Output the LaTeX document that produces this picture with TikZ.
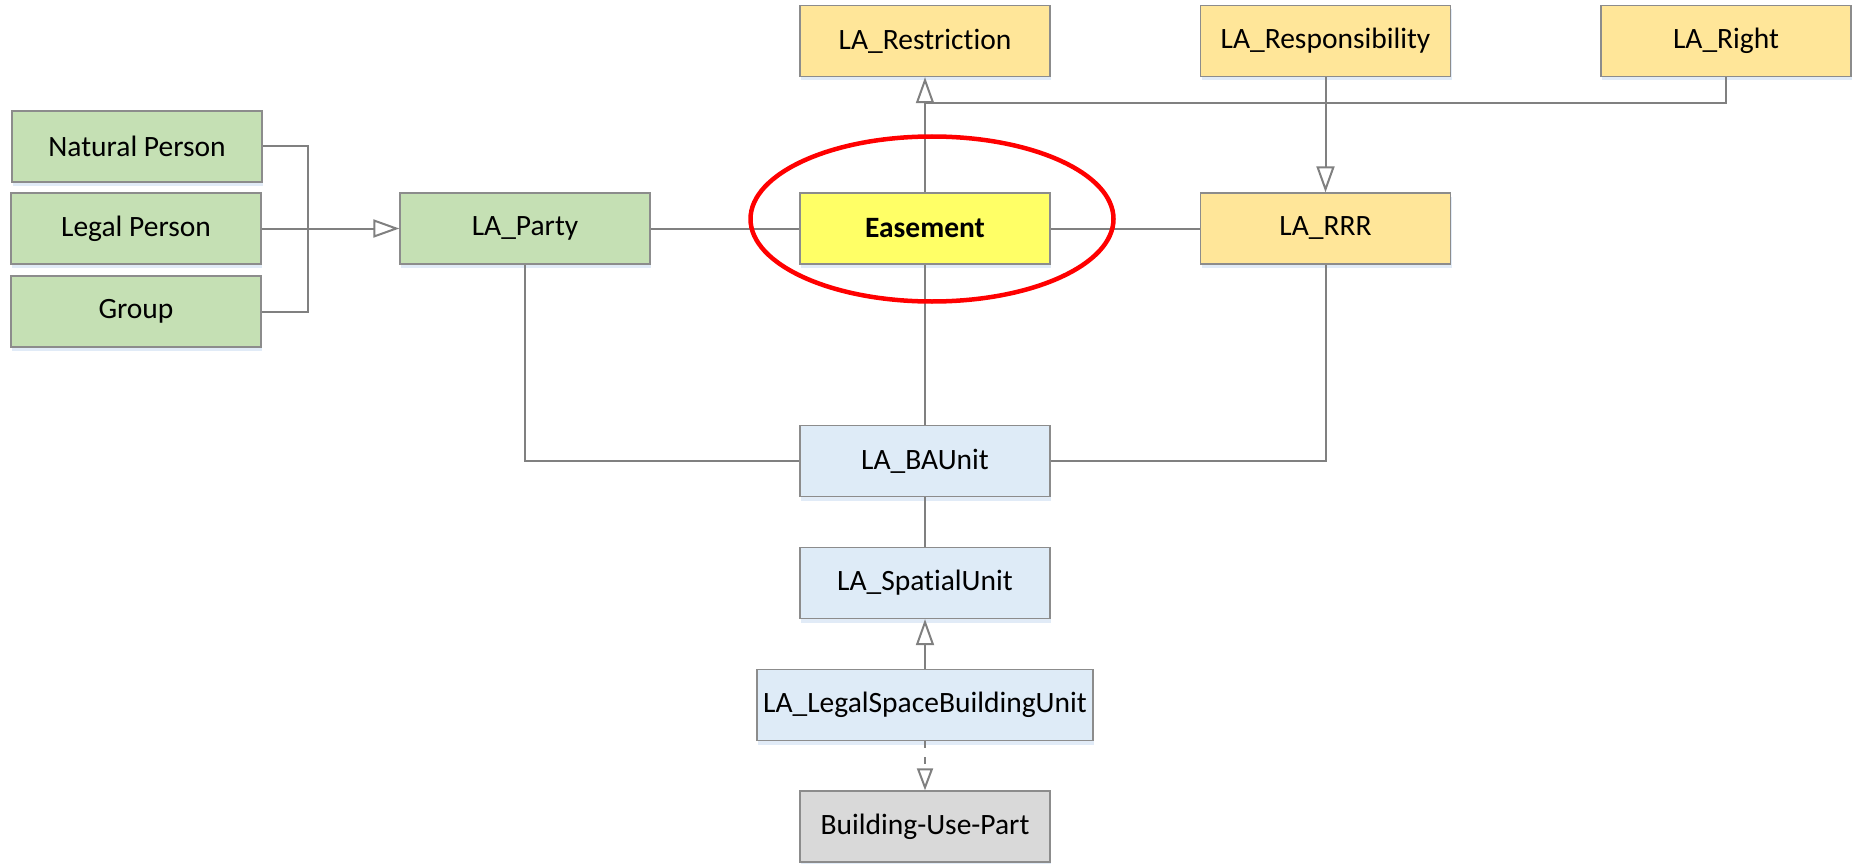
\documentclass[tikz,border=0pt]{standalone}
\usepackage{fontspec}
\setmainfont{Carlito}[Ligatures=NoCommon]
\usetikzlibrary{arrows.meta,shadows}

\definecolor{linegray}{HTML}{808080}
\definecolor{boxedge}{HTML}{8C8C8C}
\definecolor{partygreen}{HTML}{C5E0B4}
\definecolor{rrrorange}{HTML}{FFE699}
\definecolor{easeyellow}{HTML}{FFFF66}
\definecolor{unitblue}{HTML}{DEEBF7}
\definecolor{partgray}{HTML}{D9D9D9}
\definecolor{shadowblue}{HTML}{C8DAF0}
\definecolor{markred}{HTML}{FF0000}

\begin{document}
\begin{tikzpicture}[x=1pt,y=-1pt,
  box/.style={draw=boxedge, line width=1.3pt, minimum width=250pt,
    minimum height=71pt, inner sep=0pt,
    font=\fontsize{29.5}{35}\selectfont,
    drop shadow={shadow xshift=1pt, shadow yshift=-4pt, fill=shadowblue, opacity=0.55}},
  greenbox/.style={box, fill=partygreen},
  orangebox/.style={box, fill=rrrorange},
  bluebox/.style={box, fill=unitblue},
  conn/.style={draw=linegray, line width=2pt},
  gen/.style={conn, -{Triangle[open, length=26pt, width=18pt]}},
  realize/.style={conn, dash pattern=on 7pt off 9pt,
    -{Triangle[open, length=22pt, width=16pt]}}]

\useasboundingbox (0,0) rectangle (1858,864);

% party classes
\node[greenbox] (np)    at (137,146.5) {Natural Person};
\node[greenbox] (lp)    at (136,228.5) {Legal Person};
\node[greenbox] (grp)   at (136,311.5) {Group};
\node[greenbox] (party) at (525,228.5) {LA\_Party};

% rights, restrictions, responsibilities
\node[orangebox] (restr) at (925,41)     {LA\_Restriction};
\node[orangebox] (resp)  at (1325.5,41)  {LA\_Responsibility};
\node[orangebox] (right) at (1726,41)    {LA\_Right};
\node[box, fill=easeyellow, font=\fontsize{29.5}{35}\selectfont\bfseries]
      (ease) at (925,228.5) {Easement};
\node[orangebox] (rrr)   at (1325.5,228.5) {LA\_RRR};

% units
\node[bluebox] (ba)   at (925,461)   {LA\_BAUnit};
\node[bluebox] (sp)   at (925,583)   {LA\_SpatialUnit};
\node[bluebox, minimum width=336pt] (lsbu) at (925,705) {LA\_LegalSpaceBuildingUnit};
\node[box, fill=partgray] (bup) at (925,826.5) {Building-Use-Part};

% generalisation of the party kinds
\coordinate (bus) at (308,228.5);
\draw[conn] (np.east) -| (bus) |- (grp.east);
\draw[gen] (lp.east) -- (party.west);

% associations around the easement
\draw[conn] (party.east) -- (ease.west);
\draw[conn] (ease.east) -- (rrr.west);
\coordinate (hub) at (925,103);
\draw[conn] (right.south) |- (hub);
\draw[gen] (ease.north) -- (restr.south);
\draw[gen] (resp.south) -- (rrr.north);
\draw[conn] (ease.south) -- (ba.north);
\draw[conn] (party.south) |- (ba.west);
\draw[conn] (rrr.south) |- (ba.east);

% spatial chain
\draw[conn] (ba.south) -- (sp.north);
\draw[gen] (lsbu.north) -- (sp.south);
\draw[realize] (lsbu.south) -- (bup.north);

% highlight ring
\draw[markred, line width=4.5pt] (932,219) ellipse [x radius=181.5, y radius=82.5];
\end{tikzpicture}
\end{document}
